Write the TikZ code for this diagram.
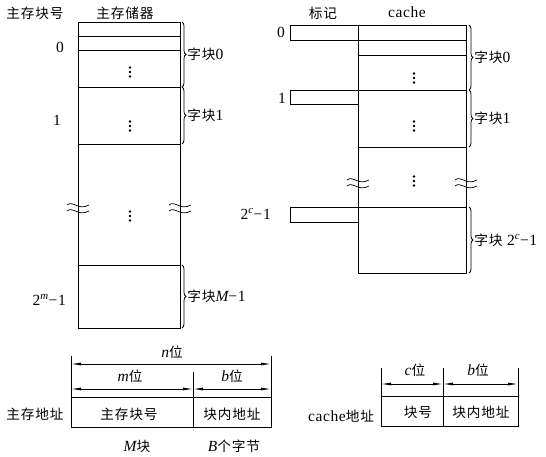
\documentclass[tikz,border=0pt]{standalone}
\usepackage{fontspec}
\setmainfont{Liberation Serif}[LetterSpace=4]
\newfontfamily\cjk{Noto Sans CJK SC}[LetterSpace=6,Scale=0.88]
\newcommand{\iv}[1]{{\rmfamily\itshape #1}}
\newcommand{\sv}[1]{\textsuperscript{\iv{#1}}}
\usetikzlibrary{arrows.meta,decorations.pathreplacing}
\tikzset{
  ln/.style={line width=0.8pt},
  lbl/.style={inner sep=0pt,font=\fontsize{15.5}{18}\selectfont},
  brc/.style={ln,decorate,decoration={brace,amplitude=4pt}},
  dim/.style={ln,{Latex[length=10pt,width=3pt]}-{Latex[length=10pt,width=3pt]}},
  brk/.pic={\draw[line width=0.7pt] (-11,-3) .. controls (-5,-8) and (0,3) .. (11,-3);
            \draw[line width=0.7pt] (-11,3) .. controls (-5,-2) and (0,9) .. (11,3);},
  vdts/.pic={\fill (0,-4.5) circle (1.3) (0,0) circle (1.3) (0,4.5) circle (1.3);}
}
\begin{document}
\begin{tikzpicture}[x=1pt,y=-1pt]
\useasboundingbox (0,0) rectangle (546,457);
% ---------- main memory ----------
\coordinate (mTL) at (78,22);
\coordinate (mBR) at (180,328);
\draw[ln] (mTL) rectangle (mBR);
\foreach \y in {36,50,87,144,265} \draw[ln] (78,\y) -- (180,\y);
\pic at (78,208) {brk};
\pic at (180,208) {brk};
\pic at (130,72) {vdts};
\pic at (130,126) {vdts};
\pic at (130,216) {vdts};
\draw[brc] (182,22) -- (182,87) node[midway,right=5pt,lbl] (mb0) {\cjk 字块\rmfamily 0};
\draw[brc] (182,87) -- (182,144) node[midway,right=5pt,lbl] (mb1) {\cjk 字块\rmfamily 1};
\draw[brc] (182,265) -- (182,328) node[midway,right=5pt,lbl] (mb2) {\cjk 字块\iv{M}\rmfamily −1};
\node[lbl] (h1) at (35,13) {\cjk 主存块号};
\node[lbl] (h2) at (125,13) {\cjk 主存储器};
\node[lbl] (n0) at (60,47) {0};
\node[lbl] (n1) at (57,120) {1};
\node[lbl,anchor=east] (n2) at (66,300) {2\sv{m}−1};
% ---------- cache ----------
\draw[ln] (358,25) rectangle (466,273);
\foreach \y in {40,55,90,147,207} \draw[ln] (358,\y) -- (466,\y);
\draw[ln] (290,25) rectangle (358,40);
\draw[ln] (290,90) rectangle (358,104);
\draw[ln] (290,207) rectangle (358,222);
\pic at (358,183) {brk};
\pic at (466,183) {brk};
\pic at (414,78) {vdts};
\pic at (414,126) {vdts};
\pic at (414,181) {vdts};
\draw[brc] (469,25) -- (469,90) node[midway,right=5pt,lbl] (cb0) {\cjk 字块\rmfamily 0};
\draw[brc] (469,90) -- (469,147) node[midway,right=5pt,lbl] (cb1) {\cjk 字块\rmfamily 1};
\draw[brc] (469,207) -- (469,273) node[midway,right=5pt,lbl] (cb2) {\cjk 字块\rmfamily\ 2\sv{c}−1};
\node[lbl] (h3) at (323,13) {\cjk 标记};
\node[lbl] (h4) at (407,12) {cache};
\node[lbl] (c0) at (281,32) {0};
\node[lbl] (c1) at (282,98) {1};
\node[lbl,anchor=east] (c2) at (271,214) {2\sv{c}−1};
% ---------- main memory address ----------
\coordinate (aL) at (71,356);
\coordinate (aR) at (271,356);
\coordinate (aM) at (193,372);
\draw[ln] (aL) -- (71,427) -- (271,427) -- (aR);
\draw[ln] (71,397) -- (271,397);
\draw[ln] (aM) -- (193,427);
\draw[dim] (71,364) -- (271,364);
\draw[dim] (71,389) -- (193,389);
\draw[dim] (193,389) -- (271,389);
\node[lbl] (nb) at (172,352) {\iv{n}\cjk 位};
\node[lbl] (mb) at (130,376) {\iv{m}\cjk 位};
\node[lbl] (bb) at (232,376) {\iv{b}\cjk 位};
\node[lbl] (a1) at (35,414) {\cjk 主存地址};
\node[lbl] (a2) at (129,414) {\cjk 主存块号};
\node[lbl] (a3) at (232,414) {\cjk 块内地址};
\node[lbl] (a4) at (137,446) {\iv{M}\cjk 块};
\node[lbl] (a5) at (234,446) {\iv{B}\cjk 个字节};
% ---------- cache address ----------
\draw[ln] (381,368) -- (381,426) -- (518,426) -- (518,368);
\draw[ln] (381,396) -- (518,396);
\draw[ln] (443,368) -- (443,426);
\draw[dim] (381,384) -- (443,384);
\draw[dim] (443,384) -- (518,384);
\node[lbl] (cb) at (415,370) {\iv{c}\cjk 位};
\node[lbl] (cbb) at (478,370) {\iv{b}\cjk 位};
\node[lbl] (k1) at (418,412) {\cjk 块号};
\node[lbl] (k2) at (481,412) {\cjk 块内地址};
\node[lbl] (k3) at (341,416) {cache\cjk 地址};
\end{tikzpicture}
\end{document}
